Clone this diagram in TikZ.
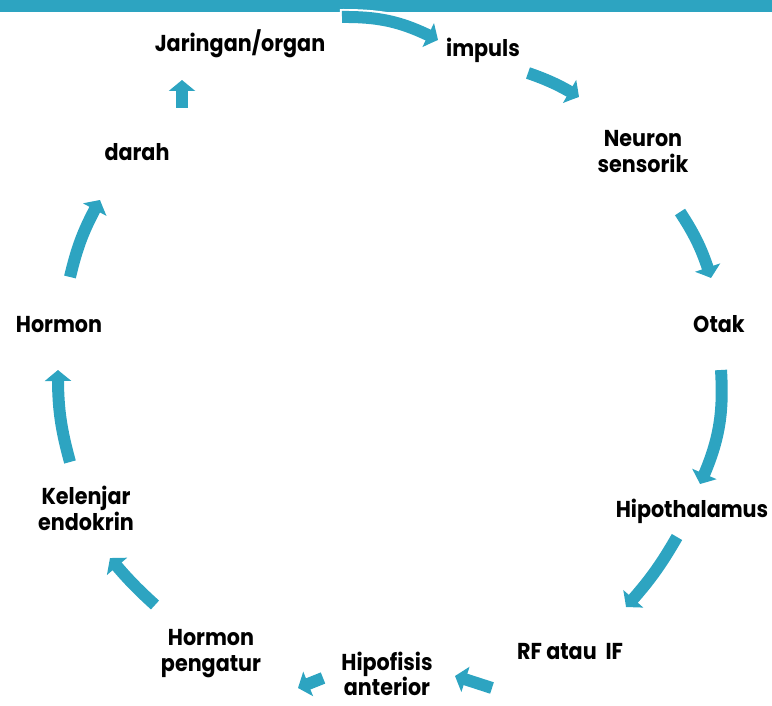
\documentclass[tikz,border=0pt]{standalone}
\usepackage{fontspec}
\setmainfont{Poppins}[FakeStretch=0.9]
\usepackage{tikz}
\usetikzlibrary{arrows.meta,bending}
\definecolor{siklus}{RGB}{45,164,193}

\begin{document}
\begin{tikzpicture}[x=1pt,y=-1pt,
  lbl/.style={font=\bfseries\fontsize{23}{26}\selectfont,align=center,inner sep=0pt,anchor=base},
  panah/.style={draw=siklus,line width=12pt,-{Triangle[width=26pt,length=11pt,bend]}}]
\useasboundingbox (0,0) rectangle (772,706);
\fill[siklus] (0,0) rectangle (772,12);
% label siklus
\node[lbl] (jaringan) at (240,52) {Jaringan/organ};
\node[lbl] (impuls) at (483,57) {impuls};
\node[lbl] (neuron) at (643,173) {Neuron\\sensorik};
\node[lbl] (otak) at (719,332) {Otak};
\node[lbl] (hipotal) at (692,517) {Hipothalamus};
\node[lbl] (rf) at (570,659) {RF atau\ \ IF};
\node[lbl,font=\bfseries\fontsize{23}{25}\selectfont] (hipofisis) at (387,695) {Hipofisis\\anterior};
\node[lbl] (pengatur) at (211,671) {Hormon\\pengatur};
\node[lbl] (kelenjar) at (86,530) {Kelenjar\\endokrin};
\node[lbl] (hormon) at (59,332) {Hormon};
\node[lbl] (darah) at (137,161) {darah};
% ujung panah
\coordinate (p1a) at (342,17);  \coordinate (p1b) at (438,40);
\coordinate (p2a) at (528,73);  \coordinate (p2b) at (579,97);
\coordinate (p3a) at (680,212); \coordinate (p3b) at (711,278);
\coordinate (p4a) at (721,370); \coordinate (p4b) at (700,484);
\coordinate (p5a) at (677,537); \coordinate (p5b) at (626,607);
\coordinate (p6a) at (492,688); \coordinate (p6b) at (455,676);
\coordinate (p7a) at (323,678); \coordinate (p7b) at (298,688);
\coordinate (p8a) at (155,605); \coordinate (p8b) at (110,558);
\coordinate (p9a) at (70,462);  \coordinate (p9b) at (58,370);
\coordinate (p10a) at (70,277); \coordinate (p10b) at (100,200);
\coordinate (p11a) at (182,108); \coordinate (p11b) at (182,80);
% panah
\draw[white,line width=16pt,shorten <=-2pt,shorten >=20pt] (p1a) to[bend left=14] (p1b);
\draw[panah] (p1a) to[bend left=14] (p1b);
\draw[panah] (p2a) to[bend left=6] (p2b);
\draw[panah] (p3a) to[bend left=8] (p3b);
\draw[panah] (p4a) to[bend left=14] (p4b);
\draw[panah] (p5a) to[bend left=6] (p5b);
\draw[panah] (p6a) -- (p6b);
\draw[panah] (p7a) -- (p7b);
\draw[panah] (p8a) to[bend left=4] (p8b);
\draw[panah] (p9a) to[bend left=8] (p9b);
\draw[panah] (p10a) to[bend left=8] (p10b);
\draw[panah] (p11a) -- (p11b);
\end{tikzpicture}
\end{document}
